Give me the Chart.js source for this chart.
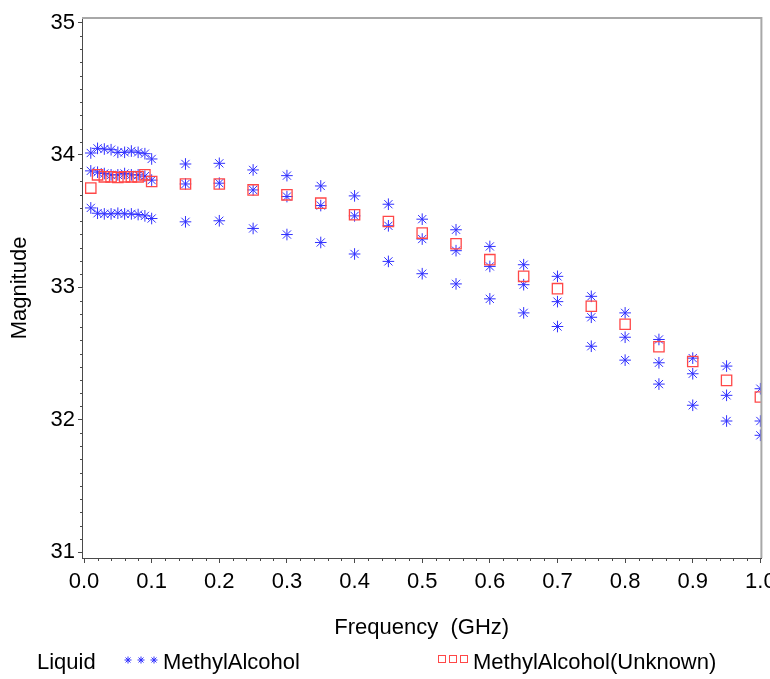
<!DOCTYPE html>
<html>
<head>
<meta charset="utf-8">
<script src="https://cdn.jsdelivr.net/npm/chart.js@4.4.1/dist/chart.umd.min.js"></script>
<style>
  html, body { margin: 0; padding: 0; background: #fff; }
  #wrap { width: 770px; height: 679px; }
</style>
</head>
<body>
<div id="wrap"><canvas id="scatterChart" width="770" height="679"></canvas></div>
<script>
/************************ DATA ************************** */
const frequencies = [
  0.01, 0.02, 0.03, 0.04, 0.05, 0.06, 0.07, 0.08, 0.09, 0.1,
  0.15, 0.2, 0.25, 0.3, 0.35, 0.4, 0.45, 0.5, 0.55, 0.6,
  0.65, 0.7, 0.75, 0.8, 0.85, 0.9, 0.95, 1.0,
];

// three measurement runs of the known liquid
const methylRun1 = [
  34.015, 34.05, 34.045, 34.04, 34.02, 34.02, 34.03, 34.02, 34.01, 33.97,
  33.932, 33.937, 33.887, 33.844, 33.766, 33.691, 33.628, 33.515, 33.435, 33.309,
  33.171, 33.083, 32.932, 32.807, 32.606, 32.465, 32.405, 32.234,
];
const methylRun2 = [
  33.88, 33.87, 33.86, 33.85, 33.85, 33.86, 33.85, 33.85, 33.84, 33.81,
  33.781, 33.787, 33.736, 33.686, 33.618, 33.54, 33.465, 33.365, 33.277, 33.158,
  33.02, 32.892, 32.774, 32.623, 32.43, 32.347, 32.184, 31.99,
];
const methylRun3 = [
  33.6, 33.56, 33.555, 33.555, 33.56, 33.555, 33.555, 33.55, 33.54, 33.52,
  33.495, 33.503, 33.445, 33.399, 33.339, 33.252, 33.196, 33.103, 33.026, 32.913,
  32.807, 32.704, 32.555, 32.45, 32.269, 32.109, 31.99, 31.882,
];
const unknownValues = [
  33.75, 33.85, 33.835, 33.835, 33.83, 33.835, 33.835, 33.835, 33.85, 33.8,
  33.781, 33.781, 33.736, 33.699, 33.636, 33.548, 33.497, 33.41, 33.329, 33.209,
  33.083, 32.99, 32.857, 32.721, 32.551, 32.44, 32.297, 32.171,
];

const xTickValues = [0, 0.1, 0.2, 0.3, 0.4, 0.5, 0.6, 0.7, 0.8, 0.9, 1.0];
const xTickLabels = ["0.0", "0.1", "0.2", "0.3", "0.4", "0.5", "0.6", "0.7", "0.8", "0.9", "1.0"];
const yTickValues = [31, 32, 33, 34, 35];
const yTickLabels = ["31", "32", "33", "34", "35"];

const legendTitle = "Liquid";
const seriesNames = ["MethylAlcohol", "MethylAlcohol(Unknown)"];

/************************ STYLE ************************** */
const FONT = "'Liberation Sans', Arial, Helvetica, sans-serif";
const FONT_SIZE = 22;
const BLUE = "#2f2fff";
const RED = "#ff4848";
const AXIS = "#4a4a4a";
const FRAME = "#a8a8a8";

/************************ BUILD POINTS ************************** */
function toPoints(values) {
  return frequencies.map((f, i) => ({ x: f, y: values[i] }));
}
const methylPoints = [
  ...toPoints(methylRun1),
  ...toPoints(methylRun2),
  ...toPoints(methylRun3),
];
const unknownPoints = toPoints(unknownValues);

/************************ PLUGINS ************************** */
// top/right frame + minor ticks
const framePlugin = {
  id: "framePlugin",
  afterDraw(chart) {
    const ctx = chart.ctx;
    const a = chart.chartArea;
    const xs = chart.scales.x;
    const ys = chart.scales.y;
    ctx.save();
    ctx.strokeStyle = FRAME;
    ctx.lineWidth = 2;
    ctx.beginPath();
    ctx.moveTo(a.left, a.top);
    ctx.lineTo(a.right, a.top);
    ctx.lineTo(a.right, a.bottom);
    ctx.stroke();

    ctx.strokeStyle = AXIS;
    ctx.lineWidth = 1;
    ctx.beginPath();
    // x minor: every 0.02
    for (let i = 0; i <= 50; i++) {
      if (i % 5 === 0) continue;
      const px = Math.round(xs.getPixelForValue(i * 0.02)) + 0.5;
      ctx.moveTo(px, a.bottom);
      ctx.lineTo(px, a.bottom + 3);
    }
    // y minor: every 0.1
    for (let i = 0; i <= 40; i++) {
      if (i % 10 === 0) continue;
      const py = Math.round(ys.getPixelForValue(31 + i * 0.1)) + 0.5;
      ctx.moveTo(a.left, py);
      ctx.lineTo(a.left - 2, py);
    }
    ctx.stroke();
    ctx.restore();
  },
};

function drawStar(ctx, x, y, r) {
  ctx.beginPath();
  ctx.moveTo(x, y - r); ctx.lineTo(x, y + r);
  ctx.moveTo(x - r, y); ctx.lineTo(x + r, y);
  const d = r * Math.SQRT1_2;
  ctx.moveTo(x - d, y - d); ctx.lineTo(x + d, y + d);
  ctx.moveTo(x - d, y + d); ctx.lineTo(x + d, y - d);
  ctx.stroke();
}

// legend row under the axis title
const legendPlugin = {
  id: "legendPlugin",
  afterDraw(chart) {
    const ctx = chart.ctx;
    const y = 663;
    ctx.save();
    ctx.font = FONT_SIZE + "px " + FONT;
    ctx.fillStyle = "#000";
    ctx.textBaseline = "middle";
    ctx.textAlign = "left";
    ctx.fillText(legendTitle, 37, y);

    ctx.strokeStyle = BLUE;
    ctx.lineWidth = 1;
    [128, 141, 154].forEach((cx) => drawStar(ctx, cx, y - 3, 3.5));
    ctx.fillText(seriesNames[0], 163, y);

    ctx.strokeStyle = RED;
    [442, 453, 464].forEach((cx) => ctx.strokeRect(cx - 3.5, y - 7.5, 7, 7));
    ctx.fillText(seriesNames[1], 473, y);
    ctx.restore();
  },
};

/************************ CHART ************************** */
const ctx = document.getElementById("scatterChart");

const config = {
  type: "scatter",
  data: {
    datasets: [
      {
        label: seriesNames[1],
        data: unknownPoints,
        pointStyle: "rect",
        pointRadius: 7.3,
        pointHoverRadius: 7.3,
        borderColor: RED,
        backgroundColor: "rgba(0,0,0,0)",
        borderWidth: 1.3,
        order: 0,
      },
      {
        label: seriesNames[0],
        data: methylPoints,
        pointStyle: "star",
        pointRadius: 5.8,
        pointHoverRadius: 5.8,
        borderColor: BLUE,
        backgroundColor: BLUE,
        borderWidth: 1,
        order: 1,
      },
    ],
  },
  options: {
    responsive: false,
    animation: false,
    devicePixelRatio: 1,
    layout: { padding: { top: 18, right: 8, bottom: 0, left: 0 } },
    plugins: {
      legend: { display: false },
      tooltip: { enabled: false },
    },
    scales: {
      x: {
        type: "linear",
        min: -0.003,
        max: 1.0015,
        afterBuildTicks: (scale) => {
          scale.ticks = xTickValues.map((v) => ({ value: v }));
        },
        afterFit: (scale) => {
          scale.height = 121;
          scale.paddingLeft = 0;
          scale.paddingRight = 0;
        },
        ticks: {
          autoSkip: false,
          maxRotation: 0,
          padding: 6,
          color: "#000",
          font: { family: FONT, size: FONT_SIZE },
          callback: (value) => {
            const i = xTickValues.findIndex((v) => Math.abs(v - value) < 1e-9);
            return i >= 0 ? xTickLabels[i] : "";
          },
        },
        grid: {
          drawOnChartArea: false,
          drawTicks: true,
          tickLength: 5,
          tickColor: AXIS,
        },
        border: { display: true, color: AXIS, width: 1 },
        title: {
          display: true,
          text: "Frequency  (GHz)",
          color: "#000",
          font: { family: FONT, size: FONT_SIZE },
          padding: { top: 0, bottom: 38 },
        },
      },
      y: {
        type: "linear",
        min: 30.955,
        max: 35.035,
        afterBuildTicks: (scale) => {
          scale.ticks = yTickValues.map((v) => ({ value: v }));
        },
        afterFit: (scale) => {
          scale.width = 82;
          scale.paddingTop = 0;
          scale.paddingBottom = 0;
        },
        ticks: {
          padding: 3,
          color: "#000",
          font: { family: FONT, size: FONT_SIZE },
          callback: (value) => {
            const i = yTickValues.indexOf(value);
            return i >= 0 ? yTickLabels[i] : "";
          },
        },
        grid: {
          drawOnChartArea: false,
          drawTicks: true,
          tickLength: 4,
          tickColor: AXIS,
        },
        border: { display: true, color: AXIS, width: 1 },
        title: {
          display: true,
          text: "Magnitude",
          color: "#000",
          font: { family: FONT, size: FONT_SIZE },
          padding: { top: 7, bottom: 0 },
        },
      },
    },
  },
  plugins: [framePlugin, legendPlugin],
};

let myScatterChart = new Chart(ctx, config);
</script>
</body>
</html>
